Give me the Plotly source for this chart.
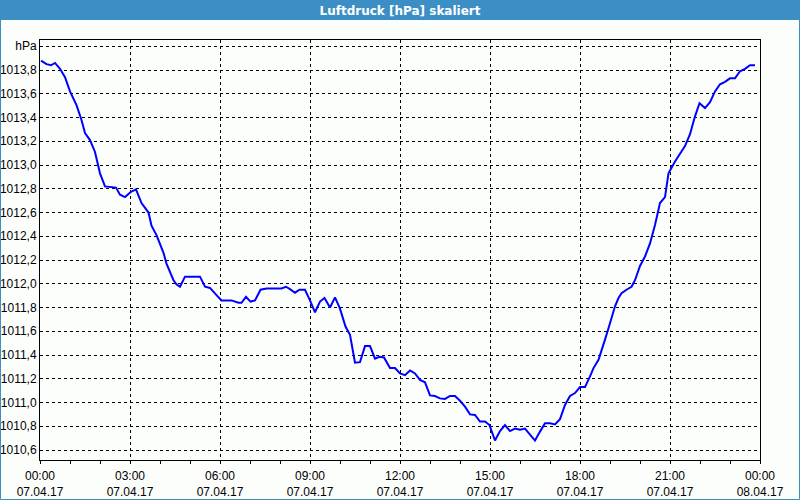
import plotly.graph_objects as go
import pandas as pd

# minutes after 07.04.17 00:00
minutes = [2, 13, 22, 30, 40, 50, 60, 73, 83, 90, 100, 110, 120, 130, 152, 160, 170, 182, 192, 203,
           217, 223, 233, 240, 247, 253, 260, 267, 273, 280, 290, 320, 330, 340, 353, 363, 383, 397,
           403, 412, 421, 430, 441, 453, 483, 492, 500, 510, 519, 530, 540, 550, 560, 569, 580, 590,
           600, 611, 620, 630, 640, 650, 660, 670, 679, 688, 700, 710, 720, 730, 740, 750, 760, 770,
           780, 790, 800, 810, 820, 830, 840, 850, 860, 870, 880, 890, 899, 910, 920, 930, 940, 950,
           960, 970, 980, 990, 1000, 1010, 1020, 1030, 1040, 1050, 1060, 1070, 1080, 1090, 1100,
           1107, 1117, 1123, 1130, 1137, 1143, 1150, 1157, 1163, 1173, 1183, 1190, 1200, 1210, 1220,
           1230, 1240, 1250, 1257, 1270, 1280, 1290, 1300, 1310, 1319, 1330, 1340, 1350, 1360, 1370,
           1380, 1390, 1400, 1410, 1420, 1430]
pressure = [1013.88, 1013.85, 1013.84, 1013.86, 1013.81, 1013.74, 1013.62, 1013.505, 1013.38, 1013.27,
            1013.21, 1013.11, 1012.93, 1012.82, 1012.81, 1012.75, 1012.73, 1012.775, 1012.795, 1012.68,
            1012.60, 1012.49, 1012.41, 1012.34, 1012.26, 1012.17, 1012.10, 1012.03, 1011.995, 1011.975,
            1012.06, 1012.06, 1011.975, 1011.965, 1011.905, 1011.86, 1011.86, 1011.84, 1011.84, 1011.89,
            1011.85, 1011.86, 1011.95, 1011.96, 1011.96, 1011.975, 1011.955, 1011.925, 1011.95, 1011.95,
            1011.86, 1011.76, 1011.85, 1011.88, 1011.80, 1011.886, 1011.79, 1011.64, 1011.57, 1011.335,
            1011.34, 1011.475, 1011.475, 1011.37, 1011.385, 1011.38, 1011.29, 1011.29, 1011.245, 1011.23,
            1011.27, 1011.245, 1011.19, 1011.17, 1011.06, 1011.055, 1011.035, 1011.03, 1011.055, 1011.055,
            1011.015, 1010.965, 1010.90, 1010.895, 1010.84, 1010.84, 1010.81, 1010.68, 1010.76, 1010.81,
            1010.76, 1010.78, 1010.77, 1010.78, 1010.73, 1010.68, 1010.755, 1010.825, 1010.825, 1010.815,
            1010.86, 1010.98, 1011.055, 1011.08, 1011.13, 1011.13, 1011.22, 1011.29, 1011.36, 1011.43,
            1011.53, 1011.625, 1011.72, 1011.81, 1011.88, 1011.92, 1011.95, 1011.975, 1012.03, 1012.15,
            1012.23, 1012.34, 1012.495, 1012.68, 1012.73, 1012.93, 1013.03, 1013.10, 1013.16, 1013.26,
            1013.41, 1013.52, 1013.48, 1013.53, 1013.62, 1013.68, 1013.70, 1013.73, 1013.73, 1013.79,
            1013.81, 1013.84, 1013.84]

y_ticks = [1010.6, 1010.8, 1011.0, 1011.2, 1011.4, 1011.6, 1011.8, 1012.0, 1012.2, 1012.4,
           1012.6, 1012.8, 1013.0, 1013.2, 1013.4, 1013.6, 1013.8, 1014.0]
y_labels = ["1010,6", "1010,8", "1011,0", "1011,2", "1011,4", "1011,6", "1011,8", "1012,0",
            "1012,2", "1012,4", "1012,6", "1012,8", "1013,0", "1013,2", "1013,4", "1013,6",
            "1013,8", "hPa"]
title_text = "Luftdruck [hPa] skaliert"

start = pd.Timestamp("2017-04-07 00:00")
times = [start + pd.Timedelta(minutes=m) for m in minutes]

W, H = 800, 500
ML, MR, MT, MB = 40, 40, 40, 40
PW, PH = W - ML - MR, H - MT - MB
BLUE = "#3c8fc5"
BG = "#fcfefc"

def px_x(p):
    return (p - ML) / PW

def px_y(p):
    return (H - MB - p) / PH

fig = go.Figure()
fig.add_trace(go.Scatter(x=times, y=pressure, mode="lines",
                         line=dict(color="#0000ff", width=2), hoverinfo="skip"))

fig.update_layout(
    width=W, height=H,
    margin=dict(l=ML, r=MR, t=MT, b=MB, autoexpand=False),
    paper_bgcolor=BG, plot_bgcolor=BG,
    showlegend=False,
    font=dict(family="Liberation Sans, Arial, sans-serif", size=12, color="#000000"),
    title=dict(text="<b>" + title_text + "</b>", x=0.5, xanchor="center",
               y=1 - 10.5 / H, yanchor="middle",
               font=dict(color="#ffffff", size=12, family="DejaVu Sans, sans-serif")),
    xaxis=dict(
        type="date", automargin=False,
        range=[start, start + pd.Timedelta(hours=24)],
        tickvals=[start + pd.Timedelta(hours=h) for h in range(0, 25, 3)],
        tickformat="%H:%M<br>%d.%m.%y",
        ticks="outside", ticklen=3, tickcolor="#000000", tickwidth=1,
        ticklabelstandoff=2,
        minor=dict(dtick=3600000, ticks="outside", ticklen=3, tickcolor="#000000",
                   showgrid=False),
        showgrid=True, gridcolor="#000000", gridwidth=1, griddash="3px,3px",
        showline=True, linecolor="#000000", linewidth=1, mirror=True,
        zeroline=False, fixedrange=True,
    ),
    yaxis=dict(
        automargin=False,
        range=[1010.516, 1014.053],
        tickvals=y_ticks, ticktext=y_labels,
        ticks="", showgrid=True, gridcolor="#000000", gridwidth=1, griddash="3px,3px",
        showline=True, linecolor="#000000", linewidth=1, mirror=True,
        zeroline=False, fixedrange=True,
    ),
    shapes=[
        dict(type="rect", xref="paper", yref="paper",
             x0=px_x(0), x1=px_x(W), y0=px_y(20), y1=px_y(0),
             fillcolor=BLUE, line=dict(width=0), layer="below"),
        dict(type="rect", xref="paper", yref="paper",
             x0=px_x(0.5), x1=px_x(W - 0.5), y0=px_y(H - 0.5), y1=px_y(0.5),
             fillcolor="rgba(0,0,0,0)", line=dict(color=BLUE, width=1), layer="above"),
    ],
)

fig.write_html("out.html")
